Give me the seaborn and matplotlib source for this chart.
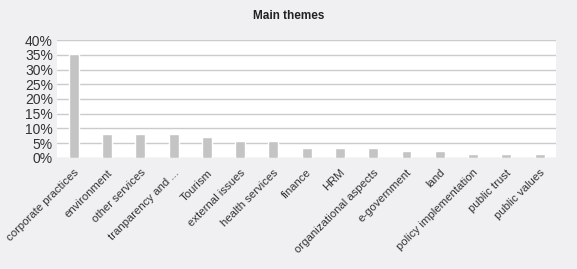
import numpy as np
import pandas as pd
import matplotlib
matplotlib.use("Agg")
import matplotlib.pyplot as plt
import seaborn as sns
from matplotlib.ticker import PercentFormatter

themes = ["corporate practices", "environment", "other services", "tranparency and ...",
          "Tourism", "external issues", "health services", "finance", "HRM",
          "organizational aspects", "e-government", "land", "policy implementation",
          "public trust", "public values"]
shares = [35.3, 8.2, 8.2, 8.2, 7.1, 5.9, 5.9, 3.5, 3.5, 3.5, 2.4, 2.4, 1.2, 1.2, 1.2]
y_ticks = [0, 5, 10, 15, 20, 25, 30, 35, 40]

df = pd.DataFrame({"theme": themes, "share": shares})

sns.set_style("white")
plt.rcParams["font.family"] = ["Liberation Sans", "DejaVu Sans"]

fig = plt.figure(figsize=(5.77, 2.69), dpi=100, facecolor="#f0f0f2")
ax = fig.add_axes([0.099, 0.413, 0.865, 0.438])
ax.set_facecolor("white")

sns.barplot(data=df, x="theme", y="share", color="#c4c4c4", width=0.3,
            saturation=1, ax=ax, zorder=3)

ax.set_ylim(0, 40)
ax.set_yticks(y_ticks)
ax.yaxis.set_major_formatter(PercentFormatter(decimals=0))
ax.grid(axis="y", color="#cbcbcb", linewidth=1.0, zorder=0)
ax.set_axisbelow(True)
for s in ax.spines.values():
    s.set_visible(False)

ax.tick_params(axis="y", length=0, labelsize=10, colors="#333333", pad=3)
ax.tick_params(axis="x", length=0, colors="#333333", pad=7)
plt.setp(ax.get_xticklabels(), rotation=45, ha="right", rotation_mode="anchor", fontsize=8.2)
ax.set_xlabel("")
ax.set_ylabel("")
ax.set_xlim(-0.5, len(themes) - 0.5)

fig.text(0.5, 0.94, "Main themes", ha="center", va="center", fontsize=8.5,
         fontweight="bold", color="#222222")

fig.savefig("out.png", dpi=100, facecolor=fig.get_facecolor())
